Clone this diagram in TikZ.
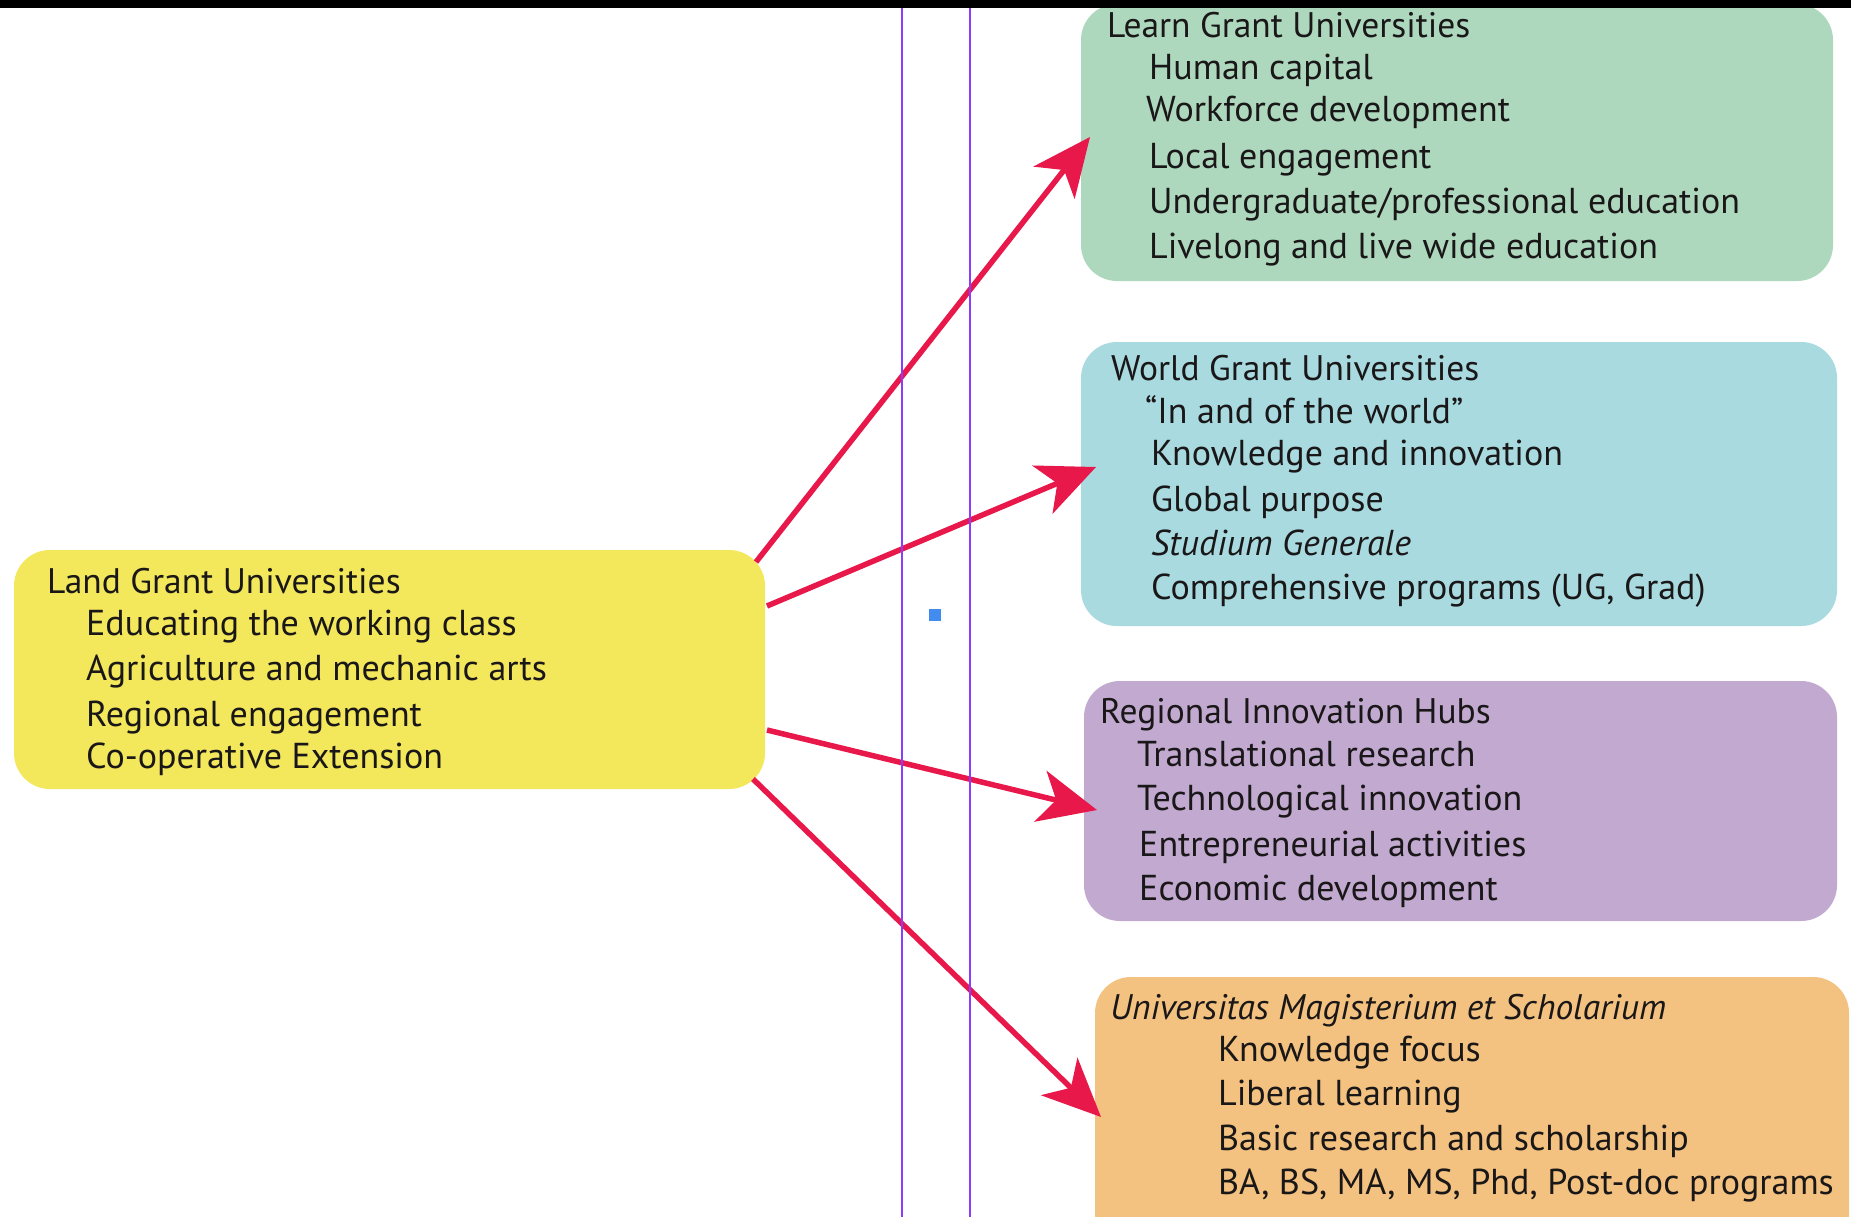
\documentclass[tikz,border=0pt]{standalone}
\usepackage{fontspec}
\setmainfont{PT Sans}
\usetikzlibrary{arrows.meta}
\definecolor{cyellow}{HTML}{F3E75C}
\definecolor{cgreen}{HTML}{AED8BE}
\definecolor{cblue}{HTML}{A8DAE0}
\definecolor{cpurple}{HTML}{C1A9D0}
\definecolor{corange}{HTML}{F3C180}
\definecolor{cred}{HTML}{E8184A}
\definecolor{cviolet}{HTML}{8B3DFF}
\definecolor{csq}{HTML}{428CF0}
\definecolor{ctext}{HTML}{1A1718}
\begin{document}
\begin{tikzpicture}[x=1pt,y=-1pt,
  box/.style={rectangle, rounded corners=36pt, inner sep=0pt, draw=none},
  tx/.style={anchor=west, inner sep=0pt, text=ctext, font=\fontsize{36}{40}\selectfont, text height=23pt, text depth=7pt},
  ttl/.style={tx, font=\fontsize{35.5}{40}\selectfont},
  arr/.style={draw=cred, line width=5.5pt, -{Stealth[length=58pt,width=52pt,inset=16pt]}},
  vline/.style={draw=cviolet, line width=2.4pt}]
\useasboundingbox (0,0) rectangle (1851,1217);
\fill[white] (0,0) rectangle (1851,1217);
% boxes
\node[box, fill=cyellow, minimum width=751pt, minimum height=239pt] (Y) at (389.5,669.5) {};
\node[box, fill=cgreen, minimum width=752pt, minimum height=277pt] (G) at (1457,142.5) {};
\node[box, fill=cblue, minimum width=756pt, minimum height=284pt] (B) at (1459,484) {};
\node[box, fill=cpurple, minimum width=753pt, minimum height=240pt] (P) at (1460.5,801) {};
\node[box, fill=corange, minimum width=754pt, minimum height=283pt] (O) at (1472,1118.5) {};
% texts
\node[ttl] (y0) at (47,585) {Land Grant Universities};
\node[tx] (y1) at (86,627) {Educating the working class};
\node[tx] (y2) at (86,672) {Agriculture and mechanic arts};
\node[tx] (y3) at (86,718) {Regional engagement};
\node[tx] (y4) at (86,760) {Co-operative Extension};
\node[ttl] (g0) at (1107,30) {Learn Grant Universities};
\node[tx] (g1) at (1149,72) {Human capital};
\node[tx] (g2) at (1146,114) {Workforce development};
\node[tx] (g3) at (1149,160) {Local engagement};
\node[tx] (g4) at (1149,205) {Undergraduate/professional education};
\node[tx] (g5) at (1149,250) {Livelong and live wide education};
\node[ttl] (b0) at (1111,372) {World Grant Universities};
\node[tx] (b1) at (1145,415) {“In and of the world”};
\node[tx] (b2) at (1151,457) {Knowledge and innovation};
\node[tx] (b3) at (1151,503) {Global purpose};
\node[tx] (b4) at (1151,547) {\itshape Studium Generale};
\node[tx] (b5) at (1151,591) {Comprehensive programs (UG, Grad)};
\node[ttl] (p0) at (1100,715) {Regional Innovation Hubs};
\node[tx] (p1) at (1137,758) {Translational research};
\node[tx] (p2) at (1137,802) {Technological innovation};
\node[tx] (p3) at (1139,848) {Entrepreneurial activities};
\node[tx] (p4) at (1139,892) {Economic development};
\node[ttl] (o0) at (1110,1011) {\itshape Universitas Magisterium et Scholarium};
\node[tx] (o1) at (1218,1053) {Knowledge focus};
\node[tx] (o2) at (1218,1097) {Liberal learning};
\node[tx] (o3) at (1218,1142) {Basic research and scholarship};
\node[tx] (o4) at (1218,1186) {BA, BS, MA, MS, Phd, Post-doc programs};
% arrow end points
\coordinate (s1) at (756,562);
\coordinate (s2) at (767,606);
\coordinate (s3) at (767,730);
\coordinate (s4) at (753,779);
\coordinate (e1) at (1090,137);
\coordinate (e2) at (1096,467);
\coordinate (e3) at (1097,810);
\coordinate (e4) at (1101,1117);
\draw[arr] (s1) -- (e1);
\draw[arr] (s2) -- (e2);
\draw[arr] (s3) -- (e3);
\draw[arr] (s4) -- (e4);
% guide lines
\draw[vline] (902,0) -- (902,1217);
\draw[vline] (970,0) -- (970,1217);
\fill[csq] (929,609) rectangle (941,621);
% top bar
\fill[black] (0,0) rectangle (1851,8);
\end{tikzpicture}
\end{document}
